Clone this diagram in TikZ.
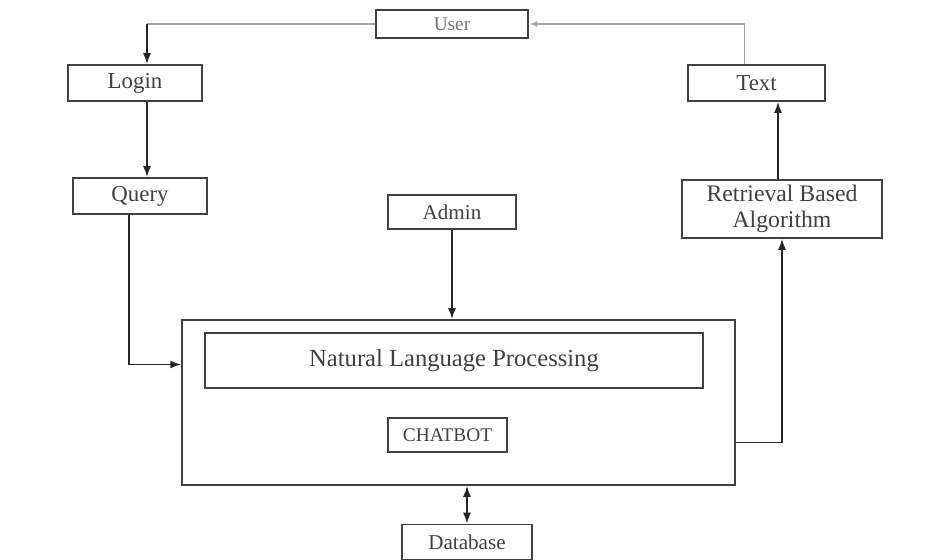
\documentclass[tikz,border=0pt]{standalone}
\usepackage{fontspec}
\setmainfont{Liberation Serif}
\usetikzlibrary{positioning, arrows.meta, calc}

\tikzset{
    block/.style={draw=black!75, line width=0.9pt, text=black!75, inner sep=2pt, align=center, font=\fontsize{13}{11}\selectfont},
    flow/.style={draw=black!85, line width=1pt, -{Latex[length=2.2mm, width=1.6mm]}},
    faint/.style={draw=black!35, line width=1pt},
}

\begin{document}
\begin{tikzpicture}[x=0.02cm, y=-0.02cm]
        \useasboundingbox (0,0) rectangle (926,560);
        \node[block, minimum width=3.04cm, minimum height=0.56cm, line width=1.4pt, text=black!55, font=\fontsize{11}{13}\selectfont] (user) at (452,24) {User};
        \node[block, minimum width=2.68cm, minimum height=0.72cm] (login) at (135,83) {Login};
        \node[block, minimum width=2.74cm, minimum height=0.72cm] (text) at (756.5,83) {Text};
        \node[block, minimum width=2.68cm, minimum height=0.72cm] (query) at (140,196) {Query};
        \node[block, minimum width=2.56cm, minimum height=0.68cm, font=\fontsize{12}{13}\selectfont] (admin) at (452,212) {Admin};
        \node[block, minimum width=4.0cm, minimum height=1.16cm, font=\fontsize{13.5}{14.5}\selectfont] (retr) at (782,209) {Retrieval Based\\Algorithm};
        \node[block, minimum width=11.06cm, minimum height=3.3cm] (core) at (458.5,402.5) {};
        \node[block, minimum width=9.96cm, minimum height=1.1cm, font=\fontsize{14}{16}\selectfont] (nlp) at (454,360.5) {Natural Language Processing};
        \node[block, minimum width=2.38cm, minimum height=0.68cm, font=\fontsize{11}{13}\selectfont] (bot) at (447.5,435) {CHATBOT};
        \node[block, minimum width=2.6cm, minimum height=0.7cm, font=\fontsize{12}{13}\selectfont] (db) at (467,542) {Database};
        \coordinate (loginIn) at ($(login.north)+(12,0)$);
        \coordinate (textOut) at ($(text.north)+(-12,0)$);
        \coordinate (queryOut) at ($(query.south)+(-11,0)$);
        \coordinate (coreIn) at ($(core.west)+(0,-38)$);
        \coordinate (coreOut) at ($(core.east)+(0,40)$);
        \coordinate (retrOut) at ($(retr.north)+(-4,0)$);
        \draw[faint] (user.west) -- (user.west -| loginIn);
        \draw[flow] (user.west -| loginIn) -- (loginIn);
        \draw[faint, -{Latex[length=1.6mm, width=1.2mm]}] (textOut) |- (user.east);
        \draw[flow] (loginIn |- login.south) -- (loginIn |- query.north);
        \draw[flow] (queryOut) |- (coreIn);
        \draw[flow] (admin.south) -- (admin.south |- core.north);
        \draw[flow] (coreOut) -| (retr.south);
        \draw[flow] (retrOut) -- (retrOut |- text.south);
        \draw[flow, {Latex[length=2.2mm, width=1.6mm]}-{Latex[length=2.2mm, width=1.6mm]}] (core.south -| db.north) -- (db.north);
\end{tikzpicture}
\end{document}
